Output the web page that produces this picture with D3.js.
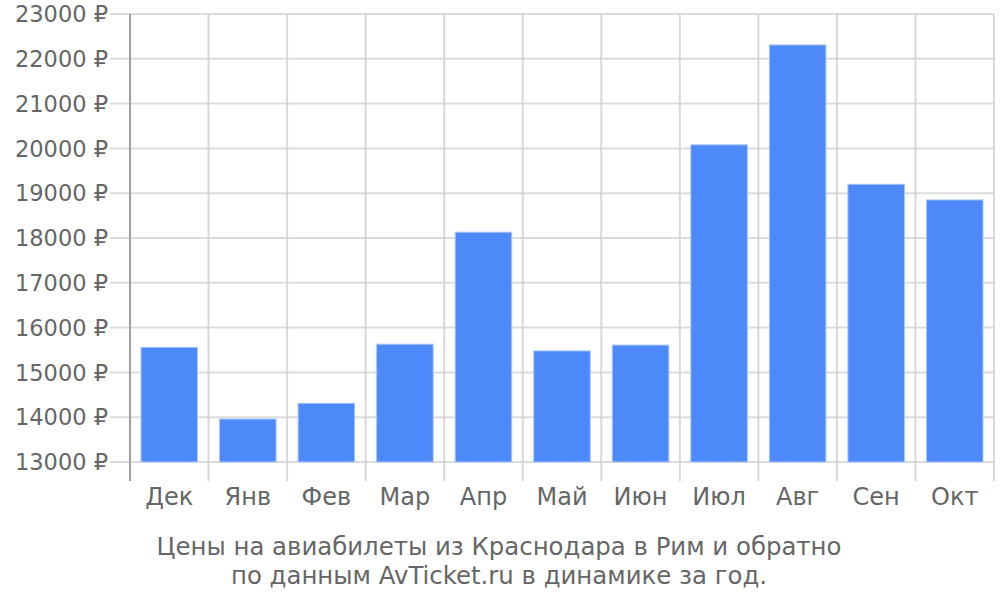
<!DOCTYPE html>
<html><head><meta charset="utf-8">
<script src="https://cdn.jsdelivr.net/npm/d3@7"></script>
<style>body{margin:0;background:#fff}svg{display:block}text{font-family:"DejaVu Sans",sans-serif;fill:#666}</style>
</head><body>
<svg id="c" width="1000" height="600"></svg>
<script>
const months = ["Дек","Янв","Фев","Мар","Апр","Май","Июн","Июл","Авг","Сен","Окт"];
const prices = [15560,13960,14310,15630,18130,15480,15610,20080,22310,19200,18850];
const yTicks = [13000,14000,15000,16000,17000,18000,19000,20000,21000,22000,23000];
const titleLines = ["Цены на авиабилеты из Краснодара в Рим и обратно","по данным AvTicket.ru в динамике за год."];

const svg = d3.select("#c");
const L = 130, R = 994, T = 14, B = 462;
const x = d3.scaleBand().domain(months).range([L, R]).paddingInner(0.28).paddingOuter(0.14);
const y = d3.scaleLinear().domain([13000, 23000]).range([B, T]);

// horizontal grid
svg.append("g").selectAll("line").data(yTicks).join("line")
  .attr("x1", 110).attr("x2", R).attr("y1", d => y(d)).attr("y2", d => y(d))
  .attr("stroke", "#dcdcdc").attr("stroke-width", 2);
// vertical grid at band boundaries
const bounds = months.map(m => x(m) - x.step() * x.paddingInner() / 2 ).concat([R]);
svg.append("g").selectAll("line").data(bounds.slice(1)).join("line")
  .attr("x1", d => d).attr("x2", d => d).attr("y1", T).attr("y2", 481)
  .attr("stroke", "#d0d0d0").attr("stroke-opacity", 0.8).attr("stroke-width", 2);
// y axis line
svg.append("line").attr("x1", L).attr("x2", L).attr("y1", T).attr("y2", 481)
  .attr("stroke", "#a0a0a0").attr("stroke-width", 2);

// bars
svg.append("g").selectAll("rect").data(prices).join("rect")
  .attr("x", (d, i) => x(months[i])).attr("width", x.bandwidth())
  .attr("y", d => y(d)).attr("height", d => B - y(d))
  .attr("fill", "#4d89f9").attr("stroke", "#a9c6fc").attr("stroke-width", 1);

// y labels
svg.append("g").selectAll("text").data(yTicks).join("text")
  .attr("x", 108).attr("y", d => y(d)).attr("dy", "0.36em").attr("text-anchor", "end")
  .style("font-size", "22.5px").text(d => d + " ₽");
// x labels
svg.append("g").selectAll("text").data(months).join("text")
  .attr("x", d => x(d) + x.bandwidth() / 2).attr("y", 505).attr("text-anchor", "middle")
  .style("font-size", "24px").text(d => d);
// title
svg.append("g").selectAll("text").data(titleLines).join("text")
  .attr("x", 499).attr("y", (d, i) => 555 + i * 29).attr("text-anchor", "middle")
  .style("font-size", "24.4px").text(d => d);
</script>
</body></html>
